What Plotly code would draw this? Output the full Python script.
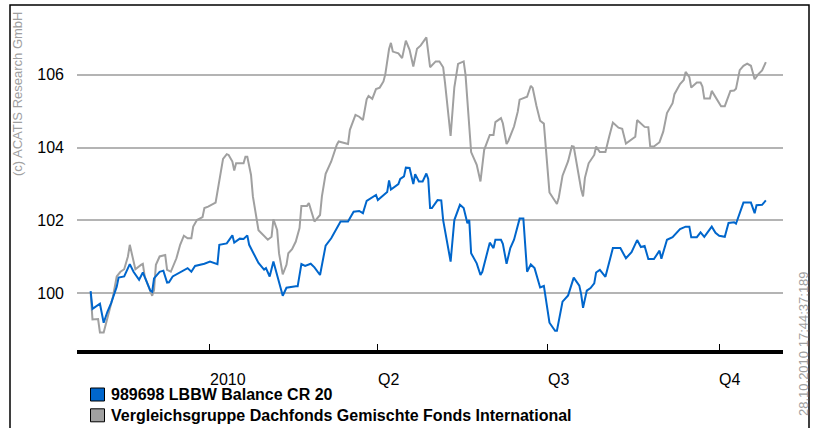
import plotly.graph_objects as go

# ---------------- data ----------------
fund_name = "989698 LBBW Balance CR 20"
peer_name = "Vergleichsgruppe Dachfonds Gemischte Fonds International"

fund_dates = [
    "2009-10-29", "2009-10-30", "2009-11-03", "2009-11-05", "2009-11-07", "2009-11-09", "2009-11-12", "2009-11-13",
    "2009-11-16", "2009-11-19", "2009-11-21", "2009-11-24", "2009-11-26", "2009-11-30", "2009-12-01", "2009-12-02",
    "2009-12-05", "2009-12-07", "2009-12-09", "2009-12-10", "2009-12-12", "2009-12-18", "2009-12-20", "2009-12-22",
    "2009-12-24", "2009-12-29", "2010-01-01", "2010-01-05", "2010-01-06", "2010-01-10", "2010-01-13", "2010-01-14",
    "2010-01-17", "2010-01-19", "2010-01-21", "2010-01-22", "2010-01-27", "2010-01-30", "2010-01-31", "2010-02-02",
    "2010-02-04", "2010-02-09", "2010-02-11", "2010-02-16", "2010-02-17", "2010-02-19", "2010-02-21", "2010-02-24",
    "2010-02-26", "2010-03-01", "2010-03-04", "2010-03-07", "2010-03-10", "2010-03-12", "2010-03-16", "2010-03-19",
    "2010-03-22", "2010-03-24", "2010-03-26", "2010-03-31", "2010-04-01", "2010-04-06", "2010-04-07", "2010-04-08",
    "2010-04-12", "2010-04-13", "2010-04-15", "2010-04-16", "2010-04-18", "2010-04-19", "2010-04-20", "2010-04-21",
    "2010-04-23", "2010-04-25", "2010-04-27", "2010-04-28", "2010-04-29", "2010-04-30", "2010-05-03", "2010-05-05",
    "2010-05-06", "2010-05-10", "2010-05-12", "2010-05-15", "2010-05-17", "2010-05-19", "2010-05-20", "2010-05-21",
    "2010-05-24", "2010-05-26", "2010-05-27", "2010-05-29", "2010-05-31", "2010-06-02", "2010-06-03", "2010-06-06",
    "2010-06-07", "2010-06-09", "2010-06-11", "2010-06-13", "2010-06-16", "2010-06-18", "2010-06-20", "2010-06-22",
    "2010-06-24", "2010-06-27", "2010-06-29", "2010-07-02", "2010-07-05", "2010-07-06", "2010-07-07", "2010-07-09",
    "2010-07-12", "2010-07-15", "2010-07-18", "2010-07-19", "2010-07-20", "2010-07-22", "2010-07-24", "2010-07-26",
    "2010-07-27", "2010-07-29", "2010-08-01", "2010-08-05", "2010-08-09", "2010-08-12", "2010-08-15", "2010-08-18",
    "2010-08-20", "2010-08-22", "2010-08-24", "2010-08-27", "2010-08-30", "2010-08-31", "2010-09-03", "2010-09-06",
    "2010-09-10", "2010-09-13", "2010-09-15", "2010-09-16", "2010-09-19", "2010-09-21", "2010-09-23", "2010-09-27",
    "2010-09-29", "2010-10-01", "2010-10-04", "2010-10-06", "2010-10-09", "2010-10-10", "2010-10-14", "2010-10-18",
    "2010-10-20", "2010-10-21", "2010-10-24", "2010-10-26",
]
fund_values = [
    100.06, 99.57, 99.71, 99.19, 99.49, 99.73, 100.18, 100.43,
    100.46, 100.80, 100.59, 100.37, 100.57, 100.07, 100.04, 100.41,
    100.59, 100.62, 100.29, 100.30, 100.46, 100.64, 100.69, 100.59,
    100.75, 100.81, 100.87, 100.80, 101.33, 101.37, 101.59, 101.39,
    101.50, 101.49, 101.59, 101.33, 100.83, 100.65, 100.69, 100.46,
    100.87, 99.93, 100.15, 100.19, 100.19, 100.80, 100.75, 100.81,
    100.71, 100.50, 101.31, 101.51, 101.78, 101.97, 101.97, 102.24,
    102.26, 102.20, 102.54, 102.70, 102.56, 102.78, 103.10, 102.85,
    103.00, 103.14, 103.21, 103.45, 103.44, 103.25, 103.00, 103.27,
    103.07, 103.07, 103.29, 103.14, 102.34, 102.34, 102.56, 102.55,
    102.01, 100.87, 102.01, 102.43, 102.34, 101.92, 102.01, 101.10,
    100.82, 100.50, 100.59, 100.99, 101.39, 101.24, 101.47, 101.47,
    101.36, 100.81, 101.24, 101.47, 102.05, 102.05, 100.59, 100.79,
    100.69, 100.16, 100.20, 99.19, 98.97, 98.97, 99.21, 99.77,
    99.94, 100.43, 100.21, 99.97, 99.60, 100.07, 100.14, 100.27,
    100.57, 100.64, 100.45, 101.24, 101.24, 100.96, 101.13, 101.46,
    101.27, 101.30, 100.94, 100.94, 101.17, 100.95, 101.47, 101.54,
    101.76, 101.83, 101.83, 101.54, 101.54, 101.67, 101.55, 101.83,
    101.66, 101.58, 101.55, 101.93, 101.95, 101.91, 102.49, 102.49,
    102.20, 102.42, 102.43, 102.55,
]

peer_dates = [
    "2009-10-29", "2009-10-30", "2009-11-02", "2009-11-03", "2009-11-05", "2009-11-06", "2009-11-08", "2009-11-10",
    "2009-11-12", "2009-11-14", "2009-11-16", "2009-11-18", "2009-11-19", "2009-11-21", "2009-11-22", "2009-11-25",
    "2009-11-26", "2009-11-27", "2009-11-29", "2009-12-01", "2009-12-02", "2009-12-03", "2009-12-05", "2009-12-08",
    "2009-12-09", "2009-12-11", "2009-12-14", "2009-12-16", "2009-12-18", "2009-12-20", "2009-12-22", "2009-12-23",
    "2009-12-25", "2009-12-28", "2009-12-29", "2009-12-31", "2010-01-04", "2010-01-06", "2010-01-08", "2010-01-10",
    "2010-01-11", "2010-01-13", "2010-01-14", "2010-01-15", "2010-01-19", "2010-01-20", "2010-01-21", "2010-01-23",
    "2010-01-24", "2010-01-27", "2010-01-30", "2010-02-01", "2010-02-03", "2010-02-04", "2010-02-06", "2010-02-07",
    "2010-02-09", "2010-02-11", "2010-02-12", "2010-02-14", "2010-02-16", "2010-02-18", "2010-02-19", "2010-02-22",
    "2010-02-23", "2010-02-26", "2010-03-01", "2010-03-02", "2010-03-04", "2010-03-07", "2010-03-10", "2010-03-11",
    "2010-03-16", "2010-03-17", "2010-03-20", "2010-03-22", "2010-03-24", "2010-03-26", "2010-03-27", "2010-03-29",
    "2010-03-31", "2010-04-02", "2010-04-04", "2010-04-05", "2010-04-07", "2010-04-08", "2010-04-09", "2010-04-12",
    "2010-04-14", "2010-04-16", "2010-04-18", "2010-04-20", "2010-04-22", "2010-04-24", "2010-04-27", "2010-04-29",
    "2010-05-02", "2010-05-04", "2010-05-06", "2010-05-07", "2010-05-10", "2010-05-12", "2010-05-14", "2010-05-17",
    "2010-05-18", "2010-05-21", "2010-05-24", "2010-05-26", "2010-05-28", "2010-05-31", "2010-06-02", "2010-06-03",
    "2010-06-06", "2010-06-07", "2010-06-09", "2010-06-10", "2010-06-13", "2010-06-15", "2010-06-16", "2010-06-20",
    "2010-06-22", "2010-06-23", "2010-06-25", "2010-06-27", "2010-06-29", "2010-07-02", "2010-07-06", "2010-07-07",
    "2010-07-09", "2010-07-12", "2010-07-14", "2010-07-15", "2010-07-19", "2010-07-20", "2010-07-21", "2010-07-23",
    "2010-07-26", "2010-07-27", "2010-07-29", "2010-08-01", "2010-08-03", "2010-08-05", "2010-08-08", "2010-08-10",
    "2010-08-12", "2010-08-17", "2010-08-18", "2010-08-22", "2010-08-24", "2010-08-25", "2010-08-27", "2010-08-30",
    "2010-09-01", "2010-09-03", "2010-09-06", "2010-09-07", "2010-09-10", "2010-09-12", "2010-09-13", "2010-09-15",
    "2010-09-16", "2010-09-19", "2010-09-21", "2010-09-22", "2010-09-23", "2010-09-26", "2010-09-27", "2010-09-30",
    "2010-10-02", "2010-10-04", "2010-10-06", "2010-10-07", "2010-10-09", "2010-10-10", "2010-10-12", "2010-10-14",
    "2010-10-16", "2010-10-18", "2010-10-20", "2010-10-22", "2010-10-24", "2010-10-26",
]
peer_values = [
    100.02, 99.28, 99.29, 98.92, 98.92, 99.13, 99.54, 99.91,
    100.46, 100.59, 100.66, 101.01, 101.33, 100.87, 100.66, 100.78,
    100.81, 100.46, 100.18, 99.93, 100.09, 100.78, 101.01, 101.05,
    100.64, 100.59, 100.96, 101.33, 101.58, 101.51, 101.51, 101.83,
    102.01, 102.09, 102.34, 102.38, 102.49, 103.11, 103.69, 103.82,
    103.80, 103.62, 103.37, 103.57, 103.57, 103.75, 103.75, 103.25,
    102.66, 101.73, 101.56, 101.47, 101.55, 102.03, 101.74, 101.10,
    100.52, 100.78, 101.10, 101.21, 101.42, 101.79, 102.40, 102.40,
    102.48, 101.97, 102.15, 102.66, 103.28, 103.62, 104.08, 104.17,
    104.10, 104.49, 104.90, 104.85, 104.76, 105.33, 105.42, 105.34,
    105.61, 105.65, 105.82, 106.02, 106.71, 106.88, 106.64, 106.59,
    106.46, 106.94, 106.69, 106.23, 106.72, 106.81, 107.03, 106.21,
    106.37, 106.37, 106.21, 105.78, 104.32, 105.66, 106.30, 106.37,
    106.00, 103.88, 103.53, 103.07, 103.94, 104.35, 104.35, 104.70,
    104.81, 104.67, 104.10, 104.19, 104.58, 104.99, 105.32, 105.40,
    105.70, 105.64, 105.15, 104.74, 104.66, 102.77, 102.45, 102.63,
    103.23, 103.63, 104.04, 104.03, 102.85, 102.66, 103.17, 103.57,
    103.80, 104.03, 103.88, 103.88, 104.30, 104.69, 104.55, 104.52,
    104.11, 104.30, 104.76, 104.57, 104.56, 104.04, 104.03, 104.15,
    104.44, 104.95, 105.22, 105.47, 105.75, 105.86, 106.08, 105.94,
    105.65, 105.79, 105.79, 105.68, 105.35, 105.35, 105.56, 105.31,
    105.14, 105.14, 105.40, 105.56, 105.57, 105.62, 106.13, 106.25,
    106.31, 106.25, 105.88, 106.02, 106.12, 106.35,
]

x_tick_dates = ["2010-01-01", "2010-04-01", "2010-07-01", "2010-10-01"]
x_tick_labels = ["2010", "Q2", "Q3", "Q4"]
y_tick_values = [100, 102, 104, 106]

copyright_text = "(c) ACATIS Research GmbH"
timestamp_text = "28.10.2010 17:44:37:189"

# ---------------- style ----------------
FONT = "Liberation Sans, Arial, sans-serif"
BLUE = "#0066CC"
GREY = "#A0A0A0"
W, H = 815, 428
ML, MR, MT, MB = 77, 32, 5, 78
PW, PH = W - ML - MR, H - MT - MB


def px(xp):
    return (xp - ML) / PW


def py(yp):
    return (H - MB - yp) / PH


fig = go.Figure()
fig.add_trace(go.Scatter(x=peer_dates, y=peer_values, mode="lines", name=peer_name,
                         line=dict(color=GREY, width=2), showlegend=False))
fig.add_trace(go.Scatter(x=fund_dates, y=fund_values, mode="lines", name=fund_name,
                         line=dict(color=BLUE, width=2), showlegend=False))

annotations = []
for d, lab in zip(x_tick_dates, x_tick_labels):
    annotations.append(dict(x=d, xref="x", y=py(379), yref="paper", text=lab, showarrow=False,
                            xanchor="left", yanchor="middle", xshift=-1, borderpad=0,
                            font=dict(family=FONT, size=16, color="#000000")))

# legend
legend_rows = [(fund_name, BLUE, 394.5), (peer_name, GREY, 415.3)]
shapes = []
for name, col, yc in legend_rows:
    shapes.append(dict(type="rect", xref="paper", yref="paper",
                       x0=px(90.5), x1=px(104.5), y0=py(yc - 6.5), y1=py(yc + 6.5),
                       fillcolor=col, line=dict(color="#000000", width=1)))
    annotations.append(dict(x=px(110), xref="paper", y=py(yc), yref="paper", text="<b>%s</b>" % name,
                            showarrow=False, xanchor="left", yanchor="middle", borderpad=0,
                            font=dict(family=FONT, size=16, color="#000000")))

annotations.append(dict(x=px(17), xref="paper", y=py(94), yref="paper", text=copyright_text,
                        textangle=-90, showarrow=False, xanchor="center", yanchor="middle",
                        font=dict(family=FONT, size=13, color=GREY)))
annotations.append(dict(x=px(803), xref="paper", y=py(344), yref="paper", text=timestamp_text,
                        textangle=-90, showarrow=False, xanchor="center", yanchor="middle",
                        font=dict(family=FONT, size=13, color=GREY)))

# outer frame
shapes.append(dict(type="rect", xref="paper", yref="paper",
                   x0=px(10), x1=px(809), y0=py(432), y1=py(5),
                   line=dict(color="#000000", width=1.5), fillcolor="rgba(0,0,0,0)", layer="above"))

fig.update_layout(
    width=W, height=H,
    margin=dict(l=ML, r=MR, t=MT, b=MB, pad=0),
    paper_bgcolor="white", plot_bgcolor="white",
    font=dict(family=FONT, size=16, color="#000000"),
    showlegend=False,
    annotations=annotations,
    shapes=shapes,
    xaxis=dict(type="date", range=["2009-10-21 16:48", "2010-11-04 04:48"],
               showgrid=False, zeroline=False, showline=True, linecolor="#000000", linewidth=4,
               tickvals=x_tick_dates, ticks="inside", ticklen=6, tickwidth=1, tickcolor="#000000",
               showticklabels=False),
    yaxis=dict(range=[98.44, 107.92], tickvals=y_tick_values, showgrid=True,
               gridcolor="#B4B4B4", gridwidth=1.5, zeroline=False, showline=False, ticks="",
               ticklabelstandoff=12,
               tickfont=dict(family=FONT, size=16, color="#000000")),
)

fig.write_html("out.html", config={"displayModeBar": False},
               post_script="document.body.style.margin='0px';document.body.style.overflow='hidden';")
